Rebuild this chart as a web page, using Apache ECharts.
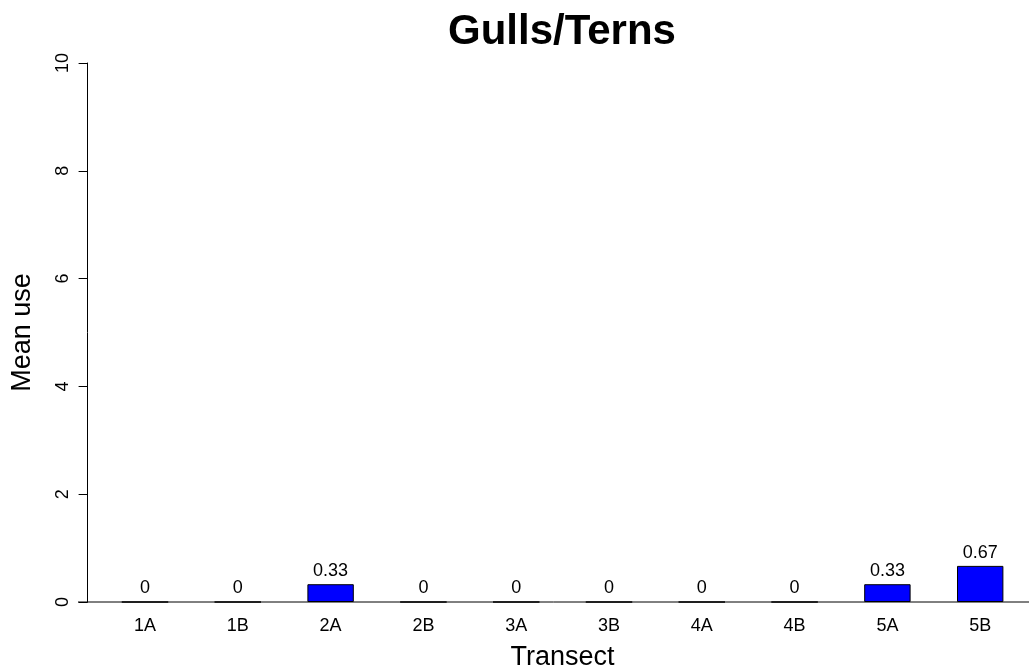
<!DOCTYPE html>
<html>
<head>
<meta charset="utf-8">
<script src="https://cdn.jsdelivr.net/npm/echarts@6/dist/echarts.min.js"></script>
<style>
html, body { margin: 0; padding: 0; background: #fff; }
#chart { width: 1029px; height: 670px; }
</style>
</head>
<body>
<div id="chart"></div>
<script>
// transects and mean use
var transects = ['1A', '1B', '2A', '2B', '3A', '3B', '4A', '4B', '5A', '5B'];
var meanUse = [0, 0, 0.33, 0, 0, 0, 0, 0, 0.33, 0.67];
var yTicks = [0, 2, 4, 6, 8, 10];

var font = 'Liberation Sans, Arial, Helvetica, sans-serif';

var chart = echarts.init(document.getElementById('chart'));

var option = {
    animation: false,
    backgroundColor: '#fff',
    title: {
        text: 'Gulls/Terns',
        left: 557,
        top: 6,
        textAlign: 'center',
        textStyle: {fontFamily: font, fontSize: 42, fontWeight: 'bold', color: '#000'}
    },
    grid: {left: 98.6, right: 2.4, top: 63, bottom: 68, outerBoundsMode: 'none', containLabel: false},
    xAxis: {
        type: 'category',
        data: transects,
        name: 'Transect',
        nameLocation: 'middle',
        nameGap: 42,
        nameTextStyle: {fontFamily: font, fontSize: 27, color: '#000'},
        axisLine: {show: false},
        axisTick: {show: false},
        axisLabel: {fontFamily: font, fontSize: 18, color: '#000', margin: 15}
    },
    yAxis: {
        type: 'value',
        min: 0,
        max: 10,
        interval: 2,
        offset: 11,
        name: 'Mean use',
        nameLocation: 'middle',
        nameGap: 52,
        nameTextStyle: {fontFamily: font, fontSize: 27, color: '#000'},
        splitLine: {show: false},
        axisLine: {show: true, lineStyle: {color: '#000', width: 1}},
        axisTick: {show: true, length: 9, lineStyle: {color: '#000'}},
        axisLabel: {
            fontFamily: font, fontSize: 18, color: '#000', rotate: 90, margin: 16,
            formatter: function (v) { return yTicks.indexOf(v) >= 0 ? String(v) : ''; }
        }
    },
    series: [{
        type: 'bar',
        data: meanUse,
        barWidth: '50%',
        itemStyle: {color: '#0000ff', borderColor: '#000', borderWidth: 1},
        label: {
            show: true,
            position: 'top',
            distance: 4,
            fontFamily: font,
            fontSize: 18,
            color: '#000',
            formatter: function (p) { return String(p.value); }
        }
    }]
};
chart.setOption(option);

// baseline across the whole plot, like abline(h = 0)
var p0 = chart.convertToPixel({gridIndex: 0}, [0, 0]);
chart.setOption({
    graphic: [{
        type: 'line',
        shape: {x1: 78, y1: p0[1], x2: 1029, y2: p0[1]},
        style: {stroke: '#000', lineWidth: 1},
        z: 1
    }]
});
</script>
</body>
</html>
